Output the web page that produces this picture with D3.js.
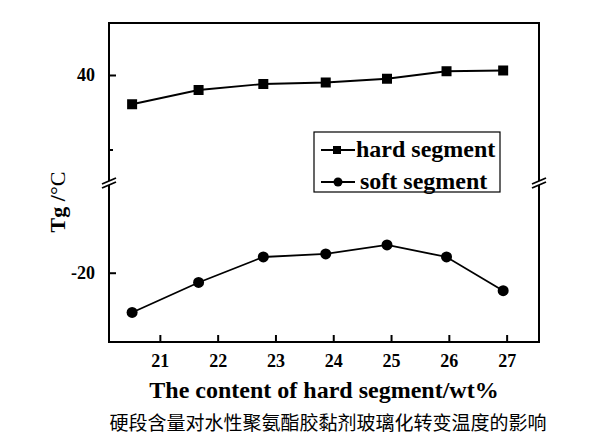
<!DOCTYPE html>
<html>
<head>
<meta charset="utf-8">
<script src="https://cdn.jsdelivr.net/npm/d3@7"></script>
<style>
  body { margin: 0; background: #fff; }
  svg text { font-family: "Liberation Serif", "Times New Roman", serif; }
</style>
</head>
<body>
<svg id="chart" width="600" height="446"></svg>
<script>
// values
const hardContent = [20.52, 21.67, 22.79, 23.87, 24.93, 25.96, 26.94];
const hardTg = [36.1, 38.0, 38.8, 39.0, 39.5, 40.5, 40.6];
const softTg = [-25.3, -21.3, -17.9, -17.5, -16.3, -17.9, -22.4];
const xTicks = [21, 22, 23, 24, 25, 26, 27];
const upperTicks = [40];
const upperMinor = [30];
const lowerTicks = [-20];

const svg = d3.select("#chart");
const serif = "'Liberation Serif', 'Times New Roman', serif";

// plot box (window.top is taken, so prefixed names)
const plotL = 109, plotR = 539, plotT = 23, plotB = 342;
const breakY = 183, gap = 2;

const x = d3.scaleLinear().domain([20.12, 27.56]).range([plotL, plotR]);
// same px/unit on both sides of the break
const yUp = d3.scaleLinear().domain([25.87, 46.93]).range([breakY - gap, plotT]);
const yLow = d3.scaleLinear().domain([-29.24, -8.3]).range([plotB, breakY + gap]);

const black = "#000";

// frame, with a gap on the left/right axis at the break
const frame = svg.append("g").attr("stroke", black).attr("stroke-width", 2).attr("fill", "none");
frame.append("path").attr("d", `M${plotL},${breakY - gap}V${plotT}H${plotR}V${breakY - gap}`);
frame.append("path").attr("d", `M${plotL},${breakY + gap}V${plotB}H${plotR}V${breakY + gap}`);

// break marks
[plotL, plotR].forEach(bx => {
  [-gap, gap].forEach(dy => {
    svg.append("line")
      .attr("x1", bx - 7).attr("y1", breakY + dy + 3)
      .attr("x2", bx + 7).attr("y2", breakY + dy - 3)
      .attr("stroke", black).attr("stroke-width", 1.8);
  });
});

// x axis ticks (inward)
const xAxis = d3.axisBottom(x).tickValues(xTicks).tickSize(-7).tickPadding(12).tickFormat(d => String(d));
const gx = svg.append("g").attr("transform", `translate(0,${plotB})`).call(xAxis);
gx.select(".domain").remove();
gx.selectAll(".tick line").attr("stroke-width", 2);
gx.selectAll(".tick text").attr("font-size", 18).attr("font-weight", "bold").attr("fill", black)
  .style("font-family", serif);

// y axes (upper and lower part), ticks inward
function yPart(scale, ticks, minor) {
  const g = svg.append("g").attr("transform", `translate(${plotL},0)`)
    .call(d3.axisLeft(scale).tickValues(ticks).tickSize(-7).tickPadding(14).tickFormat(d => String(d)));
  g.select(".domain").remove();
  g.selectAll(".tick line").attr("stroke-width", 2);
  g.selectAll(".tick text").attr("font-size", 18).attr("font-weight", "bold").attr("fill", black)
    .style("font-family", serif);
  g.selectAll(".minor").data(minor).enter().append("line")
    .attr("x1", 0).attr("x2", 4)
    .attr("y1", d => scale(d)).attr("y2", d => scale(d))
    .attr("stroke", black).attr("stroke-width", 2);
}
yPart(yUp, upperTicks, upperMinor);
yPart(yLow, lowerTicks, []);

// series
const hardData = hardContent.map((c, i) => [c, hardTg[i]]);
const softData = hardContent.map((c, i) => [c, softTg[i]]);

svg.append("path").datum(hardData)
  .attr("d", d3.line().x(d => x(d[0])).y(d => yUp(d[1])))
  .attr("fill", "none").attr("stroke", black).attr("stroke-width", 1.8);
svg.append("path").datum(softData)
  .attr("d", d3.line().x(d => x(d[0])).y(d => yLow(d[1])))
  .attr("fill", "none").attr("stroke", black).attr("stroke-width", 1.8);

svg.selectAll(".sq").data(hardData).enter().append("rect")
  .attr("x", d => x(d[0]) - 5).attr("y", d => yUp(d[1]) - 5)
  .attr("width", 10).attr("height", 10).attr("fill", black);
svg.selectAll(".ci").data(softData).enter().append("circle")
  .attr("cx", d => x(d[0])).attr("cy", d => yLow(d[1]))
  .attr("r", 5.5).attr("fill", black);

// legend
const lg = svg.append("g");
lg.append("rect").attr("x", 314).attr("y", 132).attr("width", 186).attr("height", 60)
  .attr("fill", "#fff").attr("stroke", black).attr("stroke-width", 1.2);
lg.append("line").attr("x1", 321).attr("x2", 355).attr("y1", 150).attr("y2", 150)
  .attr("stroke", black).attr("stroke-width", 1.8);
lg.append("rect").attr("x", 333).attr("y", 146).attr("width", 8).attr("height", 8).attr("fill", black);
lg.append("text").attr("x", 356).attr("y", 157).attr("font-size", 24).attr("font-weight", "bold")
  .style("font-family", serif).text("hard segment");
lg.append("line").attr("x1", 321).attr("x2", 355).attr("y1", 182).attr("y2", 182)
  .attr("stroke", black).attr("stroke-width", 1.8);
lg.append("circle").attr("cx", 338).attr("cy", 182).attr("r", 4.5).attr("fill", black);
lg.append("text").attr("x", 360).attr("y", 189).attr("font-size", 24).attr("font-weight", "bold")
  .style("font-family", serif).text("soft segment");

// axis titles
svg.append("text").attr("x", 324).attr("y", 398).attr("text-anchor", "middle")
  .attr("font-size", 24).attr("font-weight", "bold").style("font-family", serif)
  .text("The content of hard segment/wt%");

const yt = svg.append("text")
  .attr("transform", "translate(65,202) rotate(-90)")
  .attr("text-anchor", "middle").attr("font-size", 22).style("font-family", serif);
yt.append("tspan").attr("font-weight", "bold").text("Tg /");
yt.append("tspan").text("°C");

// caption
svg.append("text").attr("x", 328).attr("y", 430).attr("text-anchor", "middle")
  .attr("font-size", 19).style("font-family", "'Noto Sans CJK SC', sans-serif")
  .text("硬段含量对水性聚氨酯胶黏剂玻璃化转变温度的影响");
</script>
</body>
</html>
